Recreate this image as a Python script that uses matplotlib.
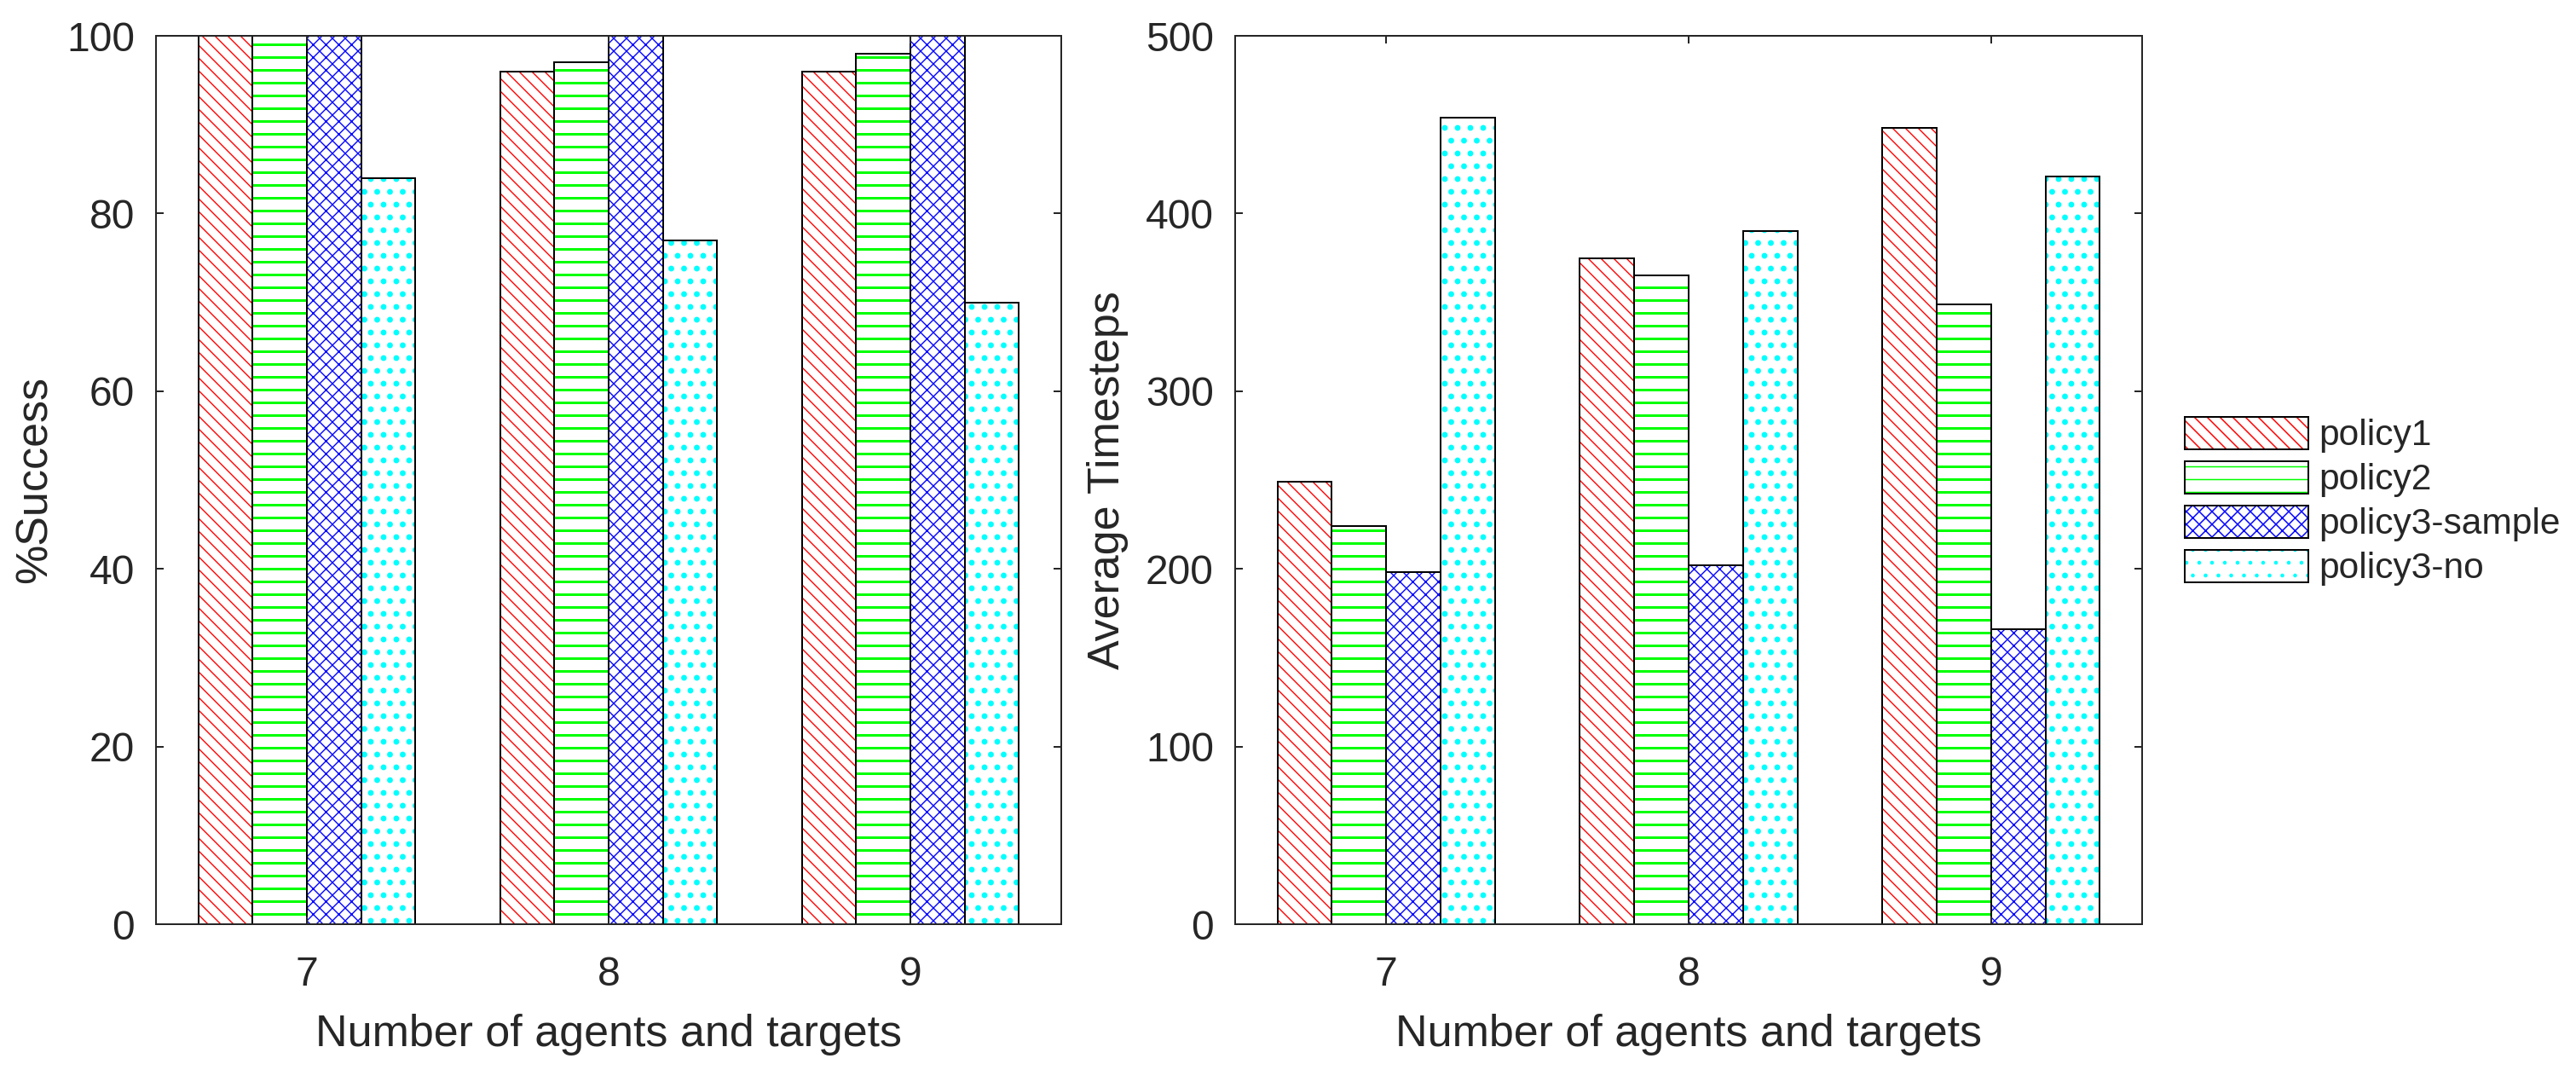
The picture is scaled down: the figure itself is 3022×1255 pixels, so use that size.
import numpy as np
import matplotlib
matplotlib.use("Agg")
import matplotlib.pyplot as plt

# data
groups = ["7", "8", "9"]
policies = ["policy1", "policy2", "policy3-sample", "policy3-no"]
success = {
    "policy1": [100, 96, 96],
    "policy2": [100, 97, 98],
    "policy3-sample": [100, 100, 100],
    "policy3-no": [84, 77, 70],
}
timesteps = {
    "policy1": [249, 375, 448],
    "policy2": [224, 365, 349],
    "policy3-sample": [198, 202, 166],
    "policy3-no": [454, 390, 421],
}

colors = ["#ff0000", "#00ff00", "#0000ff", "#00ffff"]
hatches = ["\\\\", "-", "xx", "."]
hatch_lw = [1.1, 2.4, 1.1, 3.0]

DPI = 90
W, H = 3022, 1255
GRAY = "#262626"

plt.rcParams["font.family"] = ["Liberation Sans", "DejaVu Sans"]
plt.rcParams["hatch.linewidth"] = 1.2
plt.rcParams["axes.edgecolor"] = GRAY
plt.rcParams["axes.linewidth"] = 1.6
plt.rcParams["xtick.color"] = GRAY
plt.rcParams["ytick.color"] = GRAY

tick_fs = 38.4
label_fs = 41.6
legend_fs = 34

fig = plt.figure(figsize=(W / DPI, H / DPI), dpi=DPI)
ax1 = fig.add_axes([183 / W, 1 - 1084 / H, 1062 / W, 1042 / H])
ax2 = fig.add_axes([1449 / W, 1 - 1084 / H, 1064 / W, 1042 / H])

x = np.arange(1, len(groups) + 1)
bw = 0.18
offsets = (np.arange(len(policies)) - 1.5) * bw


def draw_bars(ax, data):
    handles = []
    for i, pol in enumerate(policies):
        hb = ax.bar(x + offsets[i], data[pol], bw, facecolor="white",
                    edgecolor=colors[i], hatch=hatches[i], linewidth=0)
        for p in hb:
            try:
                p.set_hatch_linewidth(hatch_lw[i])
            except AttributeError:
                pass
        ob = ax.bar(x + offsets[i], data[pol], bw, fill=False,
                    edgecolor="black", linewidth=1.6)
        handles.append((hb[0], ob[0]))
    return handles


def style(ax, ylim, yticks):
    ax.set_xlim(0.5, 3.5)
    ax.set_ylim(*ylim)
    ax.set_xticks(x)
    ax.set_xticklabels(groups)
    ax.set_yticks(yticks)
    ax.tick_params(direction="in", length=7, width=1.6, top=True, right=True,
                   labelsize=tick_fs, labelcolor=GRAY)
    ax.tick_params(axis="x", pad=30)
    ax.tick_params(axis="y", pad=20)
    ax.set_xlabel("Number of agents and targets", fontsize=label_fs,
                  color=GRAY, va="baseline")
    ax.xaxis.set_label_coords(0.5, -0.137)


handles = draw_bars(ax1, success)
draw_bars(ax2, timesteps)

style(ax1, (0, 100), np.arange(0, 101, 20))
style(ax2, (0, 500), np.arange(0, 501, 100))

ax1.set_ylabel("%Success", fontsize=label_fs, color=GRAY, va="baseline")
ax1.yaxis.set_label_coords(-0.1205, 0.5)
ax2.set_ylabel("Average Timesteps", fontsize=label_fs, color=GRAY, va="baseline")
ax2.yaxis.set_label_coords(-0.128, 0.5)

leg = fig.legend(handles, policies, loc="center left",
                 bbox_to_anchor=(2563 / W, 1 - 588 / H),
                 frameon=False, fontsize=legend_fs, borderpad=0,
                 borderaxespad=0,
                 handlelength=3.41, handleheight=1.01,
                 handletextpad=0.28, labelspacing=0.22)
for t in leg.get_texts():
    t.set_color(GRAY)

fig.savefig("out.png", dpi=DPI)
